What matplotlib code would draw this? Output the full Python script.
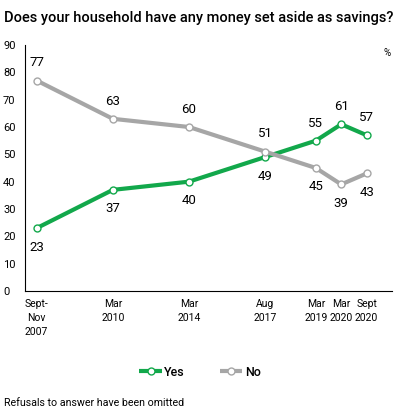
import matplotlib.pyplot as plt

plt.rcParams['font.family'] = ['Roboto', 'DejaVu Sans']

periods = ['Sept-\nNov\n2007', 'Mar\n2010', 'Mar\n2014', 'Aug\n2017',
           'Mar\n2019', 'Mar\n2020', 'Sept\n2020']
pos = [0, 3, 6, 9, 11, 12, 13]
yes = [23, 37, 40, 49, 55, 61, 57]
no = [77, 63, 60, 51, 45, 39, 43]
yes_above = [False, False, False, False, True, True, True]
no_above = [True, True, True, True, False, False, False]

green = '#12a84b'
grey = '#a6a6a6'

fig = plt.figure(figsize=(3.97, 4.16), dpi=100)
ax = fig.add_axes([25 / 397, 1 - 291 / 416, 367 / 397, 246 / 416])

ax.plot(pos, yes, color=green, lw=3, marker='o', ms=5,
        mfc='white', mec=green, mew=1, label='Yes', solid_capstyle='butt')
ax.plot(pos, no, color=grey, lw=3, marker='o', ms=5,
        mfc='white', mec=grey, mew=1, label='No', solid_capstyle='butt')

for x, v, up in zip(pos, yes, yes_above):
    ax.annotate(str(v), (x, v), xytext=(0, 8 if up else -9),
                textcoords='offset points', ha='center',
                va='bottom' if up else 'top', fontsize=9.5)
for x, v, up in zip(pos, no, no_above):
    ax.annotate(str(v), (x, v), xytext=(0, 8 if up else -9),
                textcoords='offset points', ha='center',
                va='bottom' if up else 'top', fontsize=9.5)

ax.set_ylim(0, 90)
ax.set_xlim(-0.46, 14.0)
ax.set_yticks(range(0, 91, 10))
ax.set_xticks(pos)
ax.set_xticklabels(periods, fontsize=7.5, linespacing=1.45, va='top')
ax.tick_params(axis='y', length=0, labelsize=8, pad=0)
ax.tick_params(axis='x', length=0, pad=6)
for lbl in ax.get_yticklabels():
    lbl.set_horizontalalignment('left')
    lbl.set_x(-22 / 367)
for s in ['top', 'right']:
    ax.spines[s].set_visible(False)
ax.spines['left'].set_linewidth(0.8)
ax.spines['bottom'].set_linewidth(0.8)

ax.text(0.995, 0.955, '%', transform=ax.transAxes, fontsize=7, ha='right')

fig.text(4 / 397, 1 - 18 / 416, 'Does your household have any money set aside as savings?',
         fontsize=10.5, fontweight='medium', va='center')
fig.text(4 / 397, 1 - 403 / 416, 'Refusals to answer have been omitted',
         fontsize=7.7, va='center')

fig.legend(loc='center', bbox_to_anchor=(200 / 397, 1 - 372 / 416), ncol=2,
           frameon=False, handlelength=1.8, columnspacing=2.8,
           handletextpad=0.2, prop={'weight': 'medium', 'size': 9})

fig.savefig('out.png', dpi=100)
